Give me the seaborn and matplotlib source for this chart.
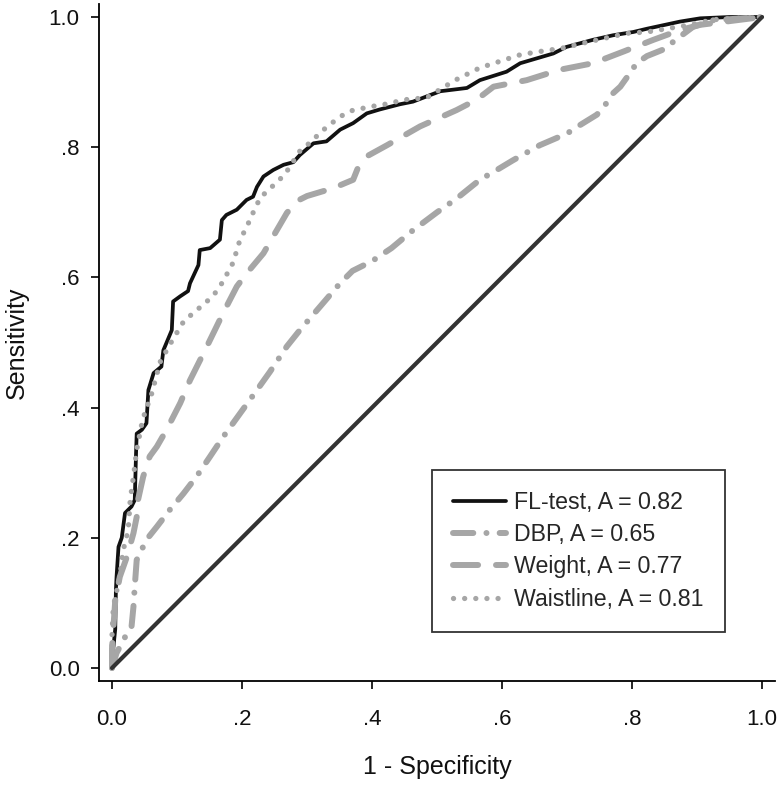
import matplotlib
matplotlib.use("Agg")
import matplotlib.pyplot as plt
import seaborn as sns
import pandas as pd

# ROC curve points (1 - specificity, sensitivity)
fl_x = [0, 0.002, 0.005, 0.006, 0.007, 0.01, 0.015, 0.02, 0.03, 0.035, 0.037, 0.038,
        0.046, 0.053, 0.056, 0.064, 0.076, 0.079, 0.092, 0.094, 0.105, 0.117, 0.12,
        0.133, 0.135, 0.151, 0.166, 0.169, 0.176, 0.192, 0.207, 0.217, 0.223, 0.233,
        0.248, 0.264, 0.279, 0.289, 0.31, 0.33, 0.351, 0.371, 0.392, 0.412, 0.443,
        0.463, 0.505, 0.546, 0.566, 0.607, 0.628, 0.679, 0.699, 0.74, 0.771, 0.802,
        0.823, 0.874, 0.905, 0.95, 1.0]
fl_y = [0, 0.03, 0.06, 0.12, 0.14, 0.186, 0.2, 0.238, 0.248, 0.258, 0.33, 0.36,
        0.366, 0.376, 0.427, 0.453, 0.463, 0.488, 0.519, 0.563, 0.571, 0.579, 0.591,
        0.619, 0.642, 0.645, 0.658, 0.688, 0.696, 0.704, 0.719, 0.724, 0.739, 0.755,
        0.765, 0.773, 0.777, 0.788, 0.806, 0.809, 0.827, 0.837, 0.852, 0.858, 0.866,
        0.87, 0.886, 0.891, 0.903, 0.916, 0.929, 0.944, 0.954, 0.965, 0.972, 0.977,
        0.982, 0.993, 0.998, 1.0, 1.0]

dbp_x = [0, 0.007, 0.023, 0.03, 0.033, 0.035, 0.038, 0.043, 0.053, 0.069, 0.089, 0.11,
         0.13, 0.151, 0.171, 0.197, 0.223, 0.243, 0.269, 0.289, 0.32, 0.35, 0.37, 0.4,
         0.43, 0.46, 0.5, 0.53, 0.566, 0.592, 0.617, 0.658, 0.7, 0.72, 0.746, 0.761,
         0.771, 0.782, 0.797, 0.807, 0.823, 0.848, 0.874, 0.894, 0.925, 1.0]
dbp_y = [0, 0.023, 0.053, 0.063, 0.094, 0.125, 0.166, 0.176, 0.197, 0.217, 0.243, 0.268,
         0.294, 0.325, 0.355, 0.391, 0.427, 0.455, 0.494, 0.519, 0.555, 0.59, 0.61, 0.625,
         0.645, 0.67, 0.70, 0.721, 0.75, 0.765, 0.78, 0.803, 0.821, 0.834, 0.85, 0.868,
         0.883, 0.893, 0.914, 0.929, 0.94, 0.95, 0.97, 0.985, 0.995, 1.0]

weight_x = [0, 0, 0.005, 0.012, 0.023, 0.033, 0.038, 0.04, 0.048, 0.058, 0.069, 0.084,
            0.105, 0.12, 0.146, 0.166, 0.176, 0.192, 0.207, 0.233, 0.248, 0.269, 0.284,
            0.3, 0.34, 0.371, 0.379, 0.392, 0.423, 0.474, 0.53, 0.561, 0.587, 0.638,
            0.689, 0.74, 0.787, 0.833, 0.874, 0.905, 1.0]
weight_y = [0, 0.03, 0.104, 0.14, 0.171, 0.207, 0.232, 0.258, 0.294, 0.325, 0.34, 0.366,
            0.407, 0.442, 0.494, 0.535, 0.555, 0.586, 0.606, 0.637, 0.663, 0.699, 0.717,
            0.725, 0.737, 0.75, 0.77, 0.786, 0.803, 0.832, 0.857, 0.873, 0.893, 0.903,
            0.919, 0.929, 0.947, 0.965, 0.98, 0.988, 1.0]

waist_x = [0, 0, 0.002, 0.012, 0.017, 0.025, 0.028, 0.033, 0.038, 0.046, 0.053, 0.058,
           0.074, 0.092, 0.11, 0.128, 0.143, 0.158, 0.169, 0.179, 0.187, 0.192, 0.197,
           0.205, 0.212, 0.22, 0.228, 0.24, 0.256, 0.269, 0.289, 0.307, 0.322, 0.338,
           0.356, 0.371, 0.387, 0.402, 0.42, 0.451, 0.484, 0.515, 0.53, 0.566, 0.597,
           0.628, 0.658, 0.692, 0.725, 0.756, 0.792, 0.823, 0.853, 0.889, 0.925, 1.0]
waist_y = [0, 0.05, 0.094, 0.14, 0.18, 0.212, 0.258, 0.294, 0.335, 0.376, 0.401, 0.41,
           0.47, 0.502, 0.532, 0.548, 0.56, 0.575, 0.591, 0.609, 0.624, 0.642, 0.658,
           0.673, 0.688, 0.706, 0.722, 0.734, 0.748, 0.763, 0.794, 0.809, 0.824, 0.837,
           0.85, 0.857, 0.86, 0.863, 0.866, 0.873, 0.876, 0.895, 0.904, 0.922, 0.932,
           0.942, 0.947, 0.952, 0.96, 0.967, 0.975, 0.977, 0.982, 0.988, 0.996, 1.0]

ref_x = [0, 1]
ref_y = [0, 1]

labels = ["FL-test, A = 0.82", "DBP, A = 0.65", "Weight, A = 0.77", "Waistline, A = 0.81"]
ticks = [0, 0.2, 0.4, 0.6, 0.8, 1.0]
tick_labels = ["0.0", ".2", ".4", ".6", ".8", "1.0"]

sns.set_style("white")
plt.rcParams['font.family'] = ['Liberation Sans', 'DejaVu Sans']

fig = plt.figure(figsize=(7.8, 7.85), dpi=100)
ax = fig.add_axes([99 / 780, 104 / 785, 676 / 780, 677 / 785])

gray = "#a6a6a6"
sns.lineplot(x=fl_x, y=fl_y, sort=False, estimator=None, ax=ax, color="#111111",
             linewidth=2.7, label=labels[0])
sns.lineplot(x=dbp_x, y=dbp_y, sort=False, estimator=None, ax=ax, color=gray,
             linewidth=4.3, linestyle=(0, (3.4, 2.2, 0.01, 2.2)),
             dash_capstyle="round", label=labels[1])
sns.lineplot(x=weight_x, y=weight_y, sort=False, estimator=None, ax=ax, color=gray,
             linewidth=4.3, linestyle=(0, (4.2, 3.0)),
             dash_capstyle="round", label=labels[2])
sns.lineplot(x=waist_x, y=waist_y, sort=False, estimator=None, ax=ax, color=gray,
             linewidth=3.8, linestyle=(0, (0.01, 2.1)),
             dash_capstyle="round", label=labels[3])
sns.lineplot(x=ref_x, y=ref_y, sort=False, estimator=None, ax=ax, color="#333333",
             linewidth=3.0, solid_capstyle="round")

ax.set_xlim(-0.02, 1.02)
ax.set_ylim(-0.02, 1.02)
ax.set_xticks(ticks)
ax.set_xticklabels(tick_labels)
ax.set_yticks(ticks)
ax.set_yticklabels(tick_labels)
ax.tick_params(axis="both", direction="out", length=5.5, width=1.2, color="black",
               labelsize=16, labelcolor="#111111", left=True, bottom=True)
ax.tick_params(axis="x", pad=14.5)
ax.tick_params(axis="y", pad=8.5)
sns.despine(ax=ax)
for side in ["left", "bottom"]:
    ax.spines[side].set_linewidth(1.3)
    ax.spines[side].set_color("black")

ax.set_xlabel("1 - Specificity", fontsize=18, color="#111111", labelpad=18.5)
ax.set_ylabel("Sensitivity", fontsize=18, color="#111111", labelpad=14)

leg = ax.legend(loc="upper left", bbox_to_anchor=((432 - 99) / 676, (681 - 470) / 677),
                borderaxespad=0, fontsize=16.7, handlelength=2.3, handletextpad=0.35,
                labelspacing=0.4, borderpad=0.9, fancybox=False, frameon=True)
leg.get_frame().set_edgecolor("black")
leg.get_frame().set_linewidth(1.3)

fig.savefig("out.png", dpi=100)
